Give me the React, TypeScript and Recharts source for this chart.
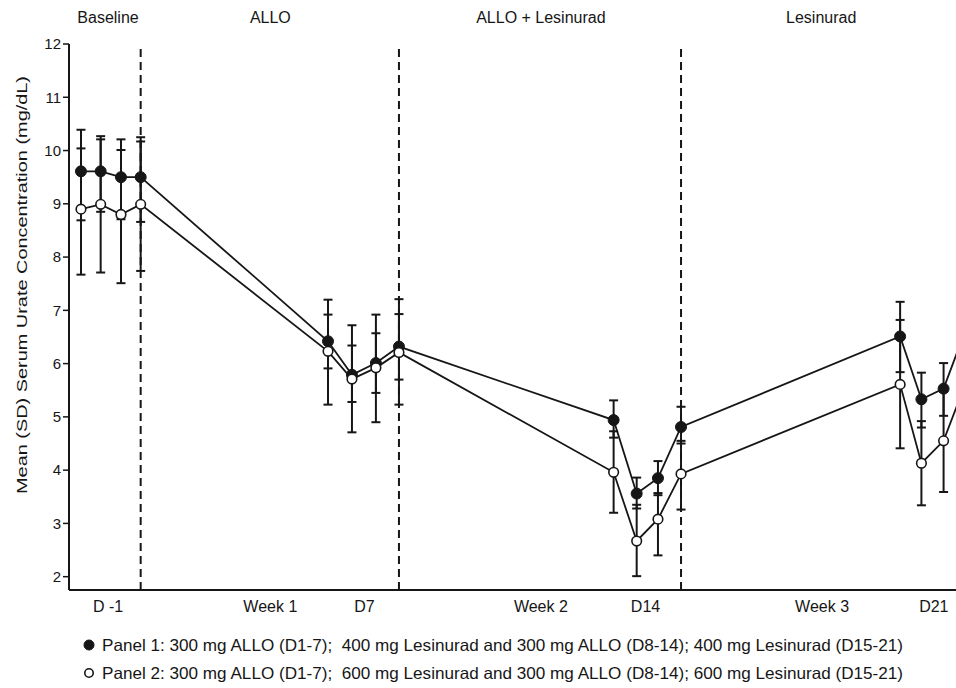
import { LineChart, Line, XAxis, YAxis, ErrorBar, ReferenceLine } from 'recharts'

// sampling times along the plot's time axis (0 = left axis, 100 = right edge)
const timePoints = [1.35, 3.57, 5.86, 8.08, 29.2, 31.9, 34.6, 37.2, 61.4, 64.0, 66.4, 69.0, 93.7, 96.1, 98.6, 101.0]

// Panel 1 (filled): mean and SD bar ends
const panel1Mean = [9.61, 9.61, 9.5, 9.5, 6.42, 5.79, 6.01, 6.32, 4.94, 3.56, 3.85, 4.81, 6.51, 5.33, 5.53, 6.6]
const panel1Low = [8.69, 8.85, 8.71, 8.66, 5.91, 5.28, 5.45, 5.7, 4.61, 3.28, 3.53, 4.5, 5.84, 4.8, 5.02, 5.95]
const panel1High = [10.39, 10.27, 10.21, 10.25, 6.92, 6.34, 6.57, 6.93, 5.31, 3.86, 4.17, 5.19, 7.16, 5.83, 6.01, 7.25]

// Panel 2 (open)
const panel2Mean = [8.9, 8.99, 8.8, 8.99, 6.23, 5.71, 5.92, 6.21, 3.96, 2.67, 3.08, 3.93, 5.61, 4.13, 4.55, 5.6]
const panel2Low = [7.67, 7.71, 7.51, 7.74, 5.23, 4.71, 4.9, 5.23, 3.2, 2.01, 2.4, 3.26, 4.41, 3.34, 3.59, 4.6]
const panel2High = [10.04, 10.21, 10.01, 10.17, 7.2, 6.72, 6.92, 7.21, 4.73, 3.35, 3.57, 4.55, 6.82, 4.92, 5.47, 6.6]

const dayTicks = [4.4, 22.7, 33.3, 53.2, 65.0, 84.9, 97.5]
const dayLabels = ['D -1', 'Week 1', 'D7', 'Week 2', 'D14', 'Week 3', 'D21']

const phaseTicks = [4.4, 22.7, 53.2, 84.8]
const phaseLabels = ['Baseline', 'ALLO', 'ALLO + Lesinurad', 'Lesinurad']

const phaseBreaks = [8.08, 37.2, 69.0]

const yTicks = [2, 3, 4, 5, 6, 7, 8, 9, 10, 11, 12]

const legendLabels = [
  'Panel 1: 300 mg ALLO (D1-7);  400 mg Lesinurad and 300 mg ALLO (D8-14); 400 mg Lesinurad (D15-21)',
  'Panel 2: 300 mg ALLO (D1-7);  600 mg Lesinurad and 300 mg ALLO (D8-14); 600 mg Lesinurad (D15-21)',
]

const FONT = '"Liberation Sans", Arial, sans-serif'
const INK = '#161616'

const data = timePoints.map((t, i) => ({
  t,
  p1: panel1Mean[i],
  p1Err: [panel1Mean[i] - panel1Low[i], panel1High[i] - panel1Mean[i]],
  p2: panel2Mean[i],
  p2Err: [panel2Mean[i] - panel2Low[i], panel2High[i] - panel2Mean[i]],
}))

const YLabel = ({ viewBox }: any) => {
  const cx = viewBox.x + 22
  const cy = 285
  return (
    <text
      x={cx}
      y={cy}
      transform={`rotate(-90, ${cx}, ${cy})`}
      textAnchor="middle"
      dominantBaseline="central"
      fontSize={14.5}
      fontFamily={FONT}
      fill={INK}
      textLength={418}
      lengthAdjust="spacingAndGlyphs"
    >
      Mean (SD) Serum Urate Concentration (mg/dL)
    </text>
  )
}

export default function App() {
  return (
    <div style={{ position: 'absolute', left: 0, top: 0, width: 956, height: 688, background: '#fff' }}>
      <LineChart width={956} height={688} data={data} margin={{ top: 0, right: 0, bottom: 0, left: 0 }}>
        <XAxis
          xAxisId="top"
          orientation="top"
          dataKey="t"
          type="number"
          domain={[0, 100]}
          allowDataOverflow
          ticks={phaseTicks}
          interval={0}
          tickFormatter={(v: number) => phaseLabels[phaseTicks.indexOf(v)]}
          height={44}
          axisLine={false}
          tickLine={false}
          tickSize={0}
          tickMargin={21}
          tick={{ fontSize: 16, fontFamily: FONT, fill: INK }}
        />
        <XAxis
          dataKey="t"
          type="number"
          domain={[0, 100]}
          allowDataOverflow
          ticks={dayTicks}
          interval={0}
          tickFormatter={(v: number) => dayLabels[dayTicks.indexOf(v)]}
          height={98}
          axisLine={{ stroke: INK, strokeWidth: 2 }}
          tickLine={false}
          tickSize={0}
          tickMargin={11}
          tick={{ fontSize: 16, fontFamily: FONT, fill: INK }}
        />
        <YAxis
          type="number"
          domain={[1.75, 12]}
          allowDataOverflow
          ticks={yTicks}
          interval={0}
          width={69}
          axisLine={{ stroke: INK, strokeWidth: 2 }}
          tickLine={{ stroke: INK, strokeWidth: 1.5 }}
          tickSize={6}
          tickMargin={2}
          tick={{ fontSize: 15, fontFamily: FONT, fill: INK }}
          label={{ content: YLabel }}
        />
        {phaseBreaks.map((x) => (
          <ReferenceLine key={x} x={x} stroke={INK} strokeWidth={2} strokeDasharray="8 5" />
        ))}
        <Line
          dataKey="p1"
          stroke={INK}
          strokeWidth={1.8}
          dot={{ r: 5.5, fill: INK, stroke: INK, strokeWidth: 1 }}
          activeDot={false}
          isAnimationActive={false}
        >
          <ErrorBar dataKey="p1Err" direction="y" width={4.5} stroke={INK} strokeWidth={2} isAnimationActive={false} />
        </Line>
        <Line
          dataKey="p2"
          stroke={INK}
          strokeWidth={1.8}
          dot={{ r: 4.8, fill: '#fff', stroke: INK, strokeWidth: 1.6 }}
          activeDot={false}
          isAnimationActive={false}
        >
          <ErrorBar dataKey="p2Err" direction="y" width={4.5} stroke={INK} strokeWidth={2} isAnimationActive={false} />
        </Line>
      </LineChart>
      <svg width={956} height={60} style={{ position: 'absolute', left: 0, top: 628 }}>
        {legendLabels.map((label, i) => (
          <g key={label} transform={`translate(0, ${17 + i * 28})`}>
            <circle
              cx={89}
              cy={0}
              r={i === 0 ? 5 : 4.2}
              fill={i === 0 ? INK : '#fff'}
              stroke={INK}
              strokeWidth={i === 0 ? 1 : 1.6}
            />
            <text
              x={102}
              y={0}
              dominantBaseline="central"
              fontSize={16.5}
              fontFamily={FONT}
              fill={INK}
              textLength={801}
              lengthAdjust="spacingAndGlyphs"
              style={{ whiteSpace: 'pre' }}
            >
              {label}
            </text>
          </g>
        ))}
      </svg>
    </div>
  )
}
